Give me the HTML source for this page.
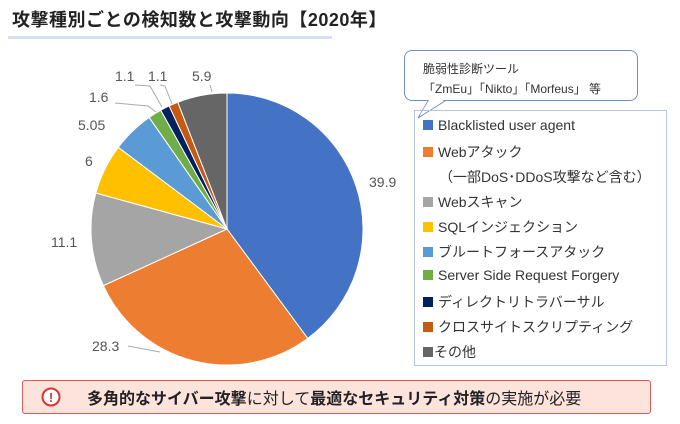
<!DOCTYPE html>
<html><head><meta charset="utf-8"><style>
body{margin:0;width:680px;height:424px;background:#fff;font-family:"Liberation Sans","Noto Sans CJK JP",sans-serif;position:relative;overflow:hidden}
.t{position:absolute;left:12px;top:6px;font-size:18px;font-weight:bold;color:#222;letter-spacing:0.5px}
.ul{position:absolute;left:8px;top:36px;width:324px;height:3px;background:#d5e1f0}
.cb{position:absolute;left:404px;top:50px;width:234px;height:51px;border:1px solid #6f8fc0;border-radius:8px;background:#fff;font-size:12px;color:#333;box-sizing:border-box;padding:8px 0 0 18px;line-height:20px}
.lg{position:absolute;left:414px;top:110px;width:253px;height:256px;border:1px solid #b8c6dc;box-sizing:border-box;font-size:14px;color:#333}
.lg div{position:absolute;left:8px;white-space:nowrap}
.lg i{display:inline-block;width:10px;height:10px;margin-right:5px;vertical-align:0}
.bb{position:absolute;left:22px;top:380px;width:629px;height:34px;background:#fce3dc;border:1px solid #e05858;border-radius:3px;box-sizing:border-box;font-size:16px;color:#222}
.lb{position:absolute;font-size:14px;color:#555}
</style></head><body>
<div class="t">攻撃種別ごとの検知数と攻撃動向【2020年】</div>
<div class="ul"></div>
<svg width="680" height="424" style="position:absolute;left:0;top:0" id="s">
<g id="pie" stroke="#fff" stroke-width="1"></g>
<g stroke="#aaa" stroke-width="1" fill="none">
<polyline points="115,103 148,106 156,112"/>
<polyline points="135,85 150,86 162,107"/>
<polyline points="160,85 165,86 172,104"/>
<polyline points="210,85 212,92"/>
<polyline points="128,346 160,352"/>
</g>
<path d="M428,101 L418,118 L445,101" fill="#fff" stroke="#6f8fc0"/>
</svg>
<div class="cb">脆弱性診断ツール<br>「ZmEu」「Nikto」「Morfeus」 等</div>
<svg width="680" height="424" style="position:absolute;left:0;top:0"><path d="M429,100 L420,115 L444,100" fill="#fff" stroke="none"/></svg>
<div class="lb" style="left:369px;top:174px">39.9</div>
<div class="lb" style="left:92px;top:338px">28.3</div>
<div class="lb" style="left:51px;top:234px">11.1</div>
<div class="lb" style="left:85px;top:153px">6</div>
<div class="lb" style="left:78px;top:117px">5.05</div>
<div class="lb" style="left:89px;top:89px">1.6</div>
<div class="lb" style="left:115px;top:68px">1.1</div>
<div class="lb" style="left:148px;top:68px">1.1</div>
<div class="lb" style="left:192px;top:68px">5.9</div>
<div class="lg">
<div style="top:6px"><i style="background:#4472c4"></i>Blacklisted user agent</div>
<div style="top:31px"><i style="background:#ed7d31"></i>Webアタック</div>
<div style="top:56px;left:24px">（一部DoS･DDoS攻撃など含む）</div>
<div style="top:81px"><i style="background:#a5a5a5"></i>Webスキャン</div>
<div style="top:106px"><i style="background:#ffc000"></i>SQLインジェクション</div>
<div style="top:131px"><i style="background:#5b9bd5"></i>ブルートフォースアタック</div>
<div style="top:156px"><i style="background:#70ad47"></i>Server Side Request Forgery</div>
<div style="top:181px"><i style="background:#002060"></i>ディレクトリトラバーサル</div>
<div style="top:206px"><i style="background:#c55a11"></i>クロスサイトスクリプティング</div>
<div style="top:231px"><i style="background:#666;margin-right:1px"></i>その他</div>
</div>
<div class="bb">
<svg width="20" height="20" style="position:absolute;left:18px;top:6px"><circle cx="10" cy="10" r="8.5" fill="#fff" stroke="#e03030" stroke-width="2"/><text x="10" y="15" text-anchor="middle" font-size="13" font-weight="bold" fill="#e03030" font-family="Liberation Sans">!</text></svg>
<div style="position:absolute;left:64px;top:4px"><b>多角的なサイバー攻撃</b>に対して<b>最適なセキュリティ対策</b>の実施が必要</div>
</div>
<script>
var v=[39.9,28.3,11.1,6,5.05,1.6,1.1,1.1,5.9],c=["#4472c4","#ed7d31","#a5a5a5","#ffc000","#5b9bd5","#70ad47","#002060","#c55a11","#666666"];
var cx=227,cy=229,r=136,s=0,t=v.reduce(function(a,b){return a+b}),g=document.getElementById("pie"),h="";
for(var i=0;i<v.length;i++){var a0=s/t*2*Math.PI;s+=v[i];var a1=s/t*2*Math.PI;
var x0=cx+r*Math.sin(a0),y0=cy-r*Math.cos(a0),x1=cx+r*Math.sin(a1),y1=cy-r*Math.cos(a1);
h+='<path fill="'+c[i]+'" d="M'+cx+','+cy+' L'+x0+','+y0+' A'+r+','+r+' 0 '+((a1-a0)>Math.PI?1:0)+' 1 '+x1+','+y1+' Z"/>';}
g.innerHTML=h;
</script>
</body></html>
